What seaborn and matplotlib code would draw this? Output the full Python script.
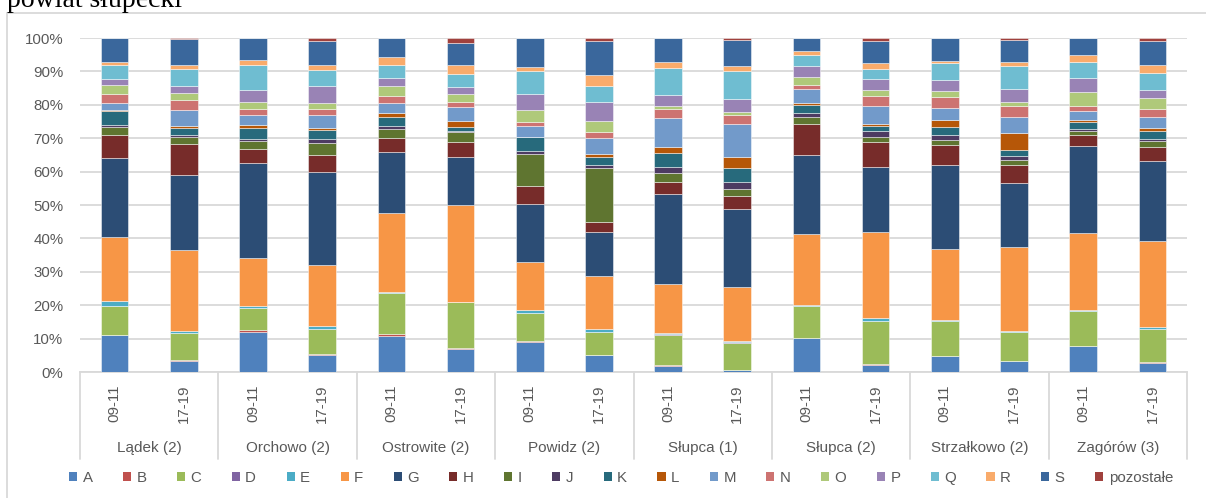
import numpy as np
import matplotlib
matplotlib.use("Agg")
import matplotlib.pyplot as plt
import seaborn as sns
from matplotlib.transforms import blended_transform_factory
from matplotlib.patches import Rectangle, Patch
from matplotlib.lines import Line2D

groups = ["Lądek (2)", "Orchowo (2)", "Ostrowite (2)", "Powidz (2)", "Słupca (1)",
          "Słupca (2)", "Strzałkowo (2)", "Zagórów (3)"]
periods = ["09-11", "17-19"]
series = ["A", "B", "C", "D", "E", "F", "G", "H", "I", "J", "K", "L", "M", "N",
          "O", "P", "Q", "R", "S", "pozostałe"]

A = [11.0, 3.4, 12.1, 5.0, 10.9, 6.9, 9.1, 5.0, 1.9, 0.5, 10.1, 2.2, 4.7, 3.2, 7.8, 2.6]
B = [0.2, 0.2, 0.4, 0.5, 0.4, 0.4, 0.1, 0.1, 0.1, 0.1, 0.1, 0.1, 0.1, 0.1, 0.1, 0.4]
C = [8.7, 8.0, 6.7, 7.4, 12.5, 13.6, 8.4, 7.0, 9.0, 8.2, 9.5, 13.0, 10.5, 8.7, 10.3, 9.9]
D = [0.0, 0.0, 0.0, 0.0, 0.0, 0.0, 0.0, 0.0, 0.5, 0.3, 0.0, 0.0, 0.0, 0.0, 0.0, 0.0]
E = [1.3, 0.7, 0.7, 0.9, 0.2, 0.2, 0.9, 0.9, 0.3, 0.1, 0.5, 0.9, 0.2, 0.2, 0.5, 0.5]
F = [19.2, 24.3, 14.2, 18.1, 23.8, 29.1, 14.5, 15.9, 14.7, 16.2, 21.2, 25.8, 21.3, 25.3, 22.9, 25.8]
G = [23.9, 22.5, 28.5, 28.0, 18.1, 14.3, 17.5, 13.1, 26.7, 23.4, 23.7, 19.3, 25.1, 19.3, 26.2, 24.0]
H = [6.8, 9.4, 4.1, 5.2, 4.4, 4.5, 5.3, 3.0, 3.8, 4.1, 9.3, 7.7, 6.0, 5.5, 3.2, 4.2]
I = [2.3, 2.1, 2.4, 3.5, 2.7, 3.0, 9.6, 16.2, 2.5, 2.0, 1.9, 1.5, 1.5, 1.5, 1.2, 1.7]
J = [0.7, 0.4, 0.6, 1.1, 0.8, 0.4, 0.9, 0.9, 2.0, 2.2, 1.2, 1.8, 1.6, 1.1, 0.5, 0.8]
K = [4.1, 2.3, 3.4, 2.8, 2.7, 1.2, 4.1, 2.4, 4.2, 4.2, 2.6, 1.4, 2.5, 1.7, 2.1, 2.3]
L = [0.3, 0.6, 1.0, 0.5, 1.2, 1.6, 0.1, 0.8, 1.7, 3.2, 0.4, 0.6, 2.1, 5.2, 0.8, 0.8]
M = [2.2, 4.8, 2.9, 3.8, 3.1, 4.2, 3.2, 4.8, 8.6, 9.9, 4.2, 5.5, 3.6, 4.8, 2.5, 3.2]
N = [2.6, 2.9, 1.8, 1.9, 2.1, 1.6, 1.2, 1.9, 2.8, 2.7, 1.4, 3.0, 3.3, 3.2, 1.7, 2.5]
O = [2.8, 2.2, 2.1, 1.7, 2.9, 2.4, 3.7, 3.2, 0.9, 0.8, 2.4, 1.6, 1.8, 1.4, 4.1, 3.2]
P = [1.9, 2.1, 3.6, 5.3, 2.5, 2.1, 4.9, 5.6, 3.3, 4.0, 3.3, 3.5, 3.3, 3.9, 4.3, 2.6]
Q = [4.2, 5.0, 7.4, 4.8, 3.8, 4.0, 6.7, 5.0, 8.2, 8.3, 3.2, 2.9, 4.9, 6.9, 4.7, 5.0]
R = [0.9, 1.3, 1.4, 1.5, 2.5, 2.7, 1.4, 3.1, 1.8, 1.7, 1.2, 1.8, 0.8, 1.1, 2.2, 2.4]
S = [7.1, 7.7, 6.7, 7.2, 5.6, 6.6, 8.6, 10.4, 7.1, 7.7, 3.9, 6.5, 6.8, 6.7, 5.0, 7.2]
pozostale = [0.0, 0.3, 0.0, 0.8, 0.0, 1.4, 0.0, 0.8, 0.0, 0.6, 0.0, 1.0, 0.0, 0.5, 0.0, 0.9]

values = [A, B, C, D, E, F, G, H, I, J, K, L, M, N, O, P, Q, R, S, pozostale]
colors = ["#4F81BD", "#C0504D", "#9BBB59", "#8064A2", "#4BACC6", "#F79646",
          "#2C4D75", "#772C2A", "#5F7530", "#4D3B62", "#276A7C", "#B65708",
          "#729ACA", "#CD7371", "#AFC97A", "#9983B5", "#6FBDD1", "#F9AB6B",
          "#3A679C", "#A0413D"]

sns.set_theme(style="white")
plt.rcParams["font.family"] = ["Liberation Sans", "DejaVu Sans"]

W, Hh = 1206, 498
fig = plt.figure(figsize=(W / 100, Hh / 100), dpi=100)
ax = fig.add_axes([80 / W, 1 - 372 / Hh, (1187 - 80) / W, (372 - 38) / Hh])

data = np.array(values, dtype=float)
data = data / data.sum(axis=0) * 100.0

pos = [f"{g}|{p}" for g in groups for p in periods]
bottom = np.zeros(len(pos))
for name, vals, col in zip(series, data, colors):
    sns.barplot(x=pos, y=vals, order=pos, color=col, saturation=1, width=0.4,
                errorbar=None, ax=ax, bottom=bottom.copy(),
                edgecolor=(1, 1, 1, 0.55), linewidth=0.6, zorder=3)
    bottom += vals

gray = "#595959"
ax.set_xlim(-0.5, len(pos) - 0.5)
ax.set_ylim(0, 100)
ax.set_yticks(np.arange(0, 101, 10))
ax.set_yticklabels([f"{v}%" for v in range(0, 101, 10)])
ax.set_xticks(range(len(pos)))
ax.set_xticklabels(periods * len(groups), rotation=90)
ax.set_xlabel("")
ax.set_ylabel("")
ax.grid(axis="y", color="#D9D9D9", linewidth=1.3, zorder=0)
ax.set_axisbelow(True)
for s in ["top", "right", "left"]:
    ax.spines[s].set_visible(False)
ax.spines["bottom"].set_color("#D9D9D9")
ax.spines["bottom"].set_linewidth(1.3)
ax.tick_params(axis="y", length=0, pad=12, labelsize=10.8, labelcolor=gray)
ax.tick_params(axis="x", length=0, pad=9, labelsize=10.8, labelcolor=gray)

trans = blended_transform_factory(ax.transData, ax.transAxes)
for gi, g in enumerate(groups):
    ax.text(gi * 2 + 0.5, (372 - 448) / 334, g, transform=trans, ha="center",
            va="center", fontsize=11, color=gray)
for k in range(len(groups) + 1):
    ax.add_line(Line2D([k * 2 - 0.5, k * 2 - 0.5], [0, (372 - 459) / 334],
                       transform=trans, color="#D9D9D9", linewidth=1.3, clip_on=False))

handles = [Patch(facecolor=c, edgecolor="none") for c in colors]
fig.legend(handles, series, loc="center", bbox_to_anchor=(0.515, 1 - 478 / Hh),
           ncol=len(series), frameon=False, fontsize=10.8, labelcolor=gray,
           handlelength=0.55, handleheight=0.55, handletextpad=0.35,
           columnspacing=2.03, borderaxespad=0)

fig.patches.append(Rectangle((7 / W, -0.1), 1.2, (1 - 13 / Hh) + 0.1,
                             transform=fig.transFigure, fill=False,
                             edgecolor="#D9D9D9", linewidth=1.3))

fig.text(7 / W, 1 - 7 / Hh, "powiat słupecki", fontsize=20,
         family=["Liberation Serif", "DejaVu Serif"], va="baseline", ha="left",
         color="black")

fig.savefig("out.png", dpi=100)
